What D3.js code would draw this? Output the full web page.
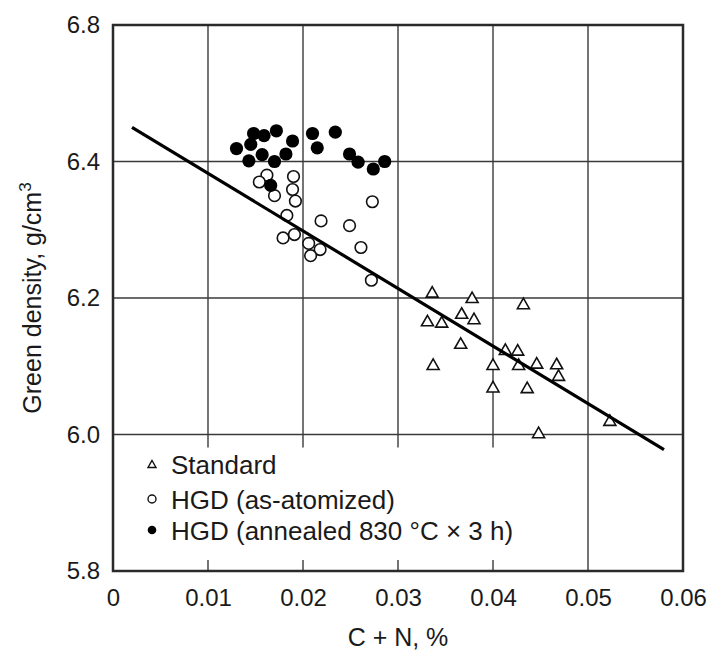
<!DOCTYPE html>
<html><head><meta charset="utf-8">
<script src="https://cdn.jsdelivr.net/npm/d3@7"></script>
<style>
html,body{margin:0;padding:0;background:#fff;}
svg{display:block;font-family:"Liberation Sans",Arial,Helvetica,sans-serif;}
</style></head>
<body>
<script>
// ---- data ----
const xTicks = [0, 0.01, 0.02, 0.03, 0.04, 0.05, 0.06];
const xTickLabels = ["0", "0.01", "0.02", "0.03", "0.04", "0.05", "0.06"];
const yTicks = [5.8, 6.0, 6.2, 6.4, 6.6];
const yTickLabels = ["5.8", "6.0", "6.2", "6.4", "6.8"];

const standardX = [0.0336, 0.0378, 0.0432, 0.0367, 0.0331, 0.0346, 0.0380, 0.0366, 0.0337, 0.0413, 0.0426, 0.0400, 0.0427, 0.0446, 0.0467, 0.0469, 0.0400, 0.0436, 0.0448, 0.0523];
const standardY = [6.209, 6.201, 6.192, 6.178, 6.167, 6.165, 6.170, 6.134, 6.103, 6.125, 6.124, 6.103, 6.103, 6.105, 6.104, 6.087, 6.070, 6.069, 6.003, 6.021];

const hgdX = [0.0162, 0.0154, 0.0190, 0.0189, 0.0170, 0.0192, 0.0273, 0.0183, 0.0219, 0.0249, 0.0179, 0.0191, 0.0206, 0.0218, 0.0208, 0.0261, 0.0272];
const hgdY = [6.380, 6.370, 6.378, 6.359, 6.350, 6.342, 6.341, 6.321, 6.313, 6.306, 6.288, 6.293, 6.280, 6.271, 6.262, 6.274, 6.226];

const annealedX = [0.0130, 0.0148, 0.0145, 0.0159, 0.0172, 0.0143, 0.0157, 0.0170, 0.0182, 0.0189, 0.0210, 0.0215, 0.0234, 0.0249, 0.0258, 0.0274, 0.0286, 0.0166];
const annealedY = [6.419, 6.441, 6.425, 6.438, 6.445, 6.401, 6.410, 6.400, 6.411, 6.430, 6.441, 6.420, 6.443, 6.411, 6.399, 6.389, 6.400, 6.365];

const fitX = [0.002, 0.058];
const fitY = [6.450, 5.978];

const legendLabels = ["Standard", "HGD (as-atomized)", "HGD (annealed 830 \u00B0C \u00D7 3 h)"];

// ---- layout ----
const W = 711, H = 656;
const m = {left: 113, right: 28, top: 25, bottom: 85};
const x = d3.scaleLinear().domain([0, 0.06]).range([m.left, W - m.right]);
const y = d3.scaleLinear().domain([5.8, 6.6]).range([H - m.bottom, m.top]);
const gridCol = "#3a3a3a";

const svg = d3.select("body").append("svg").attr("width", W).attr("height", H);

// horizontal gridlines
svg.append("g").selectAll("line").data([6.0, 6.2, 6.4]).join("line")
  .attr("x1", x(0)).attr("x2", x(0.06))
  .attr("y1", d => y(d)).attr("y2", d => y(d))
  .attr("stroke", gridCol).attr("stroke-width", 1.4);

// vertical gridlines (short ones stop above the legend)
const legendTopY = y(6.0) + 13;
svg.append("g").selectAll("line").data([0.01, 0.02, 0.03, 0.04]).join("line")
  .attr("x1", d => x(d)).attr("x2", d => x(d))
  .attr("y1", y(6.6)).attr("y2", legendTopY)
  .attr("stroke", gridCol).attr("stroke-width", 1.4);
svg.append("g").selectAll("line").data([0.05]).join("line")
  .attr("x1", d => x(d)).attr("x2", d => x(d))
  .attr("y1", y(6.6)).attr("y2", y(5.8))
  .attr("stroke", gridCol).attr("stroke-width", 1.4);
// bottom inner ticks
svg.append("g").selectAll("line").data([0.01, 0.02, 0.03, 0.04]).join("line")
  .attr("x1", d => x(d)).attr("x2", d => x(d))
  .attr("y1", y(5.8)).attr("y2", y(5.8) - 11)
  .attr("stroke", gridCol).attr("stroke-width", 1.4);

// frame
svg.append("rect").attr("x", x(0)).attr("y", y(6.6))
  .attr("width", x(0.06) - x(0)).attr("height", y(5.8) - y(6.6))
  .attr("fill", "none").attr("stroke", "#2a2a2a").attr("stroke-width", 2.5);

// axes (labels only)
const xAxis = svg.append("g").attr("transform", `translate(0,${y(5.8)})`)
  .call(d3.axisBottom(x).tickValues(xTicks).tickFormat((d, i) => xTickLabels[i]).tickSize(0).tickPadding(18));
const yAxis = svg.append("g").attr("transform", `translate(${x(0)},0)`)
  .call(d3.axisLeft(y).tickValues(yTicks).tickFormat((d, i) => yTickLabels[i]).tickSize(0).tickPadding(13));
[xAxis, yAxis].forEach(a => {
  a.select(".domain").remove();
  a.selectAll("text").attr("font-size", 24).attr("fill", "#1a1a1a")
    .attr("font-family", "'Liberation Sans', Arial, sans-serif");
});

// markers
const triPath = (cx, cy, w, h) => `M${cx},${cy - h / 2}L${cx + w / 2},${cy + h / 2}L${cx - w / 2},${cy + h / 2}Z`;

svg.append("g").selectAll("path").data(d3.range(standardX.length)).join("path")
  .attr("d", i => triPath(x(standardX[i]), y(standardY[i]), 12, 10.5))
  .attr("fill", "#fff").attr("stroke", "#111").attr("stroke-width", 1.6).attr("stroke-linejoin", "miter");

svg.append("g").selectAll("circle").data(d3.range(hgdX.length)).join("circle")
  .attr("cx", i => x(hgdX[i])).attr("cy", i => y(hgdY[i])).attr("r", 5.8)
  .attr("fill", "#fff").attr("stroke", "#111").attr("stroke-width", 1.6);

svg.append("g").selectAll("circle").data(d3.range(annealedX.length)).join("circle")
  .attr("cx", i => x(annealedX[i])).attr("cy", i => y(annealedY[i])).attr("r", 6.6)
  .attr("fill", "#000");

// regression line
svg.append("path")
  .datum(d3.range(fitX.length))
  .attr("d", d3.line().x(i => x(fitX[i])).y(i => y(fitY[i])))
  .attr("fill", "none").attr("stroke", "#000").attr("stroke-width", 3.2);

// legend
const lg = svg.append("g");
const rowY = [464, 499, 530];
lg.append("path").attr("d", triPath(152, rowY[0], 8, 7)).attr("fill", "#fff").attr("stroke", "#111").attr("stroke-width", 1.4);
lg.append("circle").attr("cx", 152).attr("cy", rowY[1]).attr("r", 4).attr("fill", "#fff").attr("stroke", "#111").attr("stroke-width", 1.4);
lg.append("circle").attr("cx", 152).attr("cy", rowY[2]).attr("r", 4.3).attr("fill", "#000");
lg.selectAll("text").data(legendLabels).join("text")
  .attr("x", 171).attr("y", (d, i) => rowY[i] + 9.5)
  .attr("font-size", 26).attr("fill", "#1a1a1a").text(d => d);

// axis titles
svg.append("text").attr("x", (x(0) + x(0.06)) / 2).attr("y", 646)
  .attr("text-anchor", "middle").attr("font-size", 25).attr("fill", "#1a1a1a").text("C + N, %");

const yt = svg.append("text")
  .attr("transform", `translate(41,${(y(5.8) + y(6.6)) / 2}) rotate(-90)`)
  .attr("text-anchor", "middle").attr("font-size", 25).attr("fill", "#1a1a1a");
yt.append("tspan").text("Green density, g/cm");
yt.append("tspan").attr("dy", -10).attr("font-size", 17).text("3");
</script>
</body></html>
